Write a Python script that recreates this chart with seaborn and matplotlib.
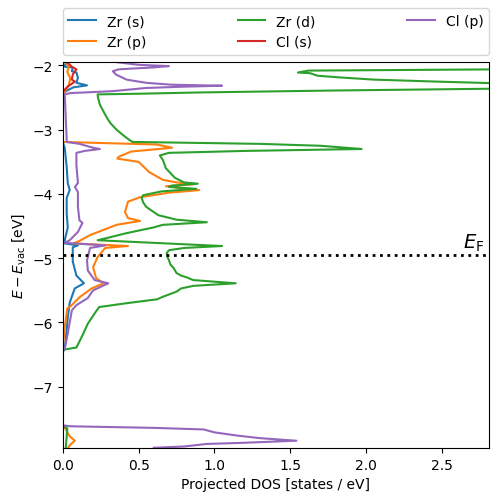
import matplotlib
matplotlib.use("Agg")
import matplotlib.pyplot as plt
import seaborn as sns
import pandas as pd

# projected DOS (energy in eV, DOS in states/eV)
zr_s_energy = [-1.95, -2.00, -2.02, -2.03, -2.09, -2.11, -2.19, -2.27, -2.31, -2.34, -2.41, -2.45,
               -3.19, -3.28, -3.58, -3.83, -3.94, -4.06, -4.30, -4.52, -4.72, -4.77, -4.80, -4.83,
               -5.05, -5.27, -5.39, -5.47, -5.69, -5.92, -6.12, -6.41, -6.45, -7.95]
zr_s_dos = [0.02, 0.015, 0.013, 0.066, 0.06, 0.09, 0.10, 0.09, 0.16, 0.07, 0.013, 0.0,
            0.0, 0.013, 0.026, 0.033, 0.046, 0.026, 0.026, 0.033, 0.013, 0.013, 0.10, 0.066,
            0.066, 0.09, 0.14, 0.079, 0.046, 0.033, 0.026, 0.013, 0.0, 0.0]

zr_p_energy = [-1.95, -2.02, -2.10, -2.20, -2.30, -2.38, -2.45,
               -3.19, -3.21, -3.23, -3.28, -3.34, -3.42, -3.45, -3.50, -3.66, -3.78, -3.82, -3.85,
               -3.88, -3.94, -3.98, -4.05, -4.12, -4.28, -4.375, -4.42, -4.48, -4.64, -4.73, -4.77,
               -4.81, -4.84, -4.98, -5.14, -5.31, -5.39, -5.47, -5.61, -5.75, -5.78, -6.08, -6.39,
               -7.62, -7.66, -7.73, -7.78, -7.84, -7.90, -7.95]
zr_p_dos = [0.02, 0.04, 0.03, 0.05, 0.04, 0.02, 0.0,
            0.0, 0.3, 0.62, 0.72, 0.45, 0.37, 0.36, 0.50, 0.57, 0.66, 0.75, 0.86,
            0.68, 0.90, 0.70, 0.51, 0.43, 0.41, 0.43, 0.51, 0.355, 0.18, 0.11, 0.07,
            0.43, 0.28, 0.23, 0.20, 0.22, 0.27, 0.19, 0.11, 0.05, 0.03, 0.013, 0.0,
            0.0, 0.02, 0.035, 0.05, 0.08, 0.05, 0.035]

zr_d_energy = [-1.95, -2.04, -2.06, -2.08, -2.11, -2.12, -2.16, -2.19, -2.22, -2.25, -2.28, -2.33,
               -2.36, -2.39, -2.42, -2.44, -2.45, -2.50, -2.61, -2.70, -2.81, -2.90, -3.00,
               -3.06, -3.125, -3.16, -3.19, -3.22,
               -3.25, -3.30, -3.33, -3.36, -3.40, -3.47, -3.60, -3.75, -3.82, -3.84, -3.87,
               -3.89, -3.92, -3.96, -4.02, -4.06, -4.13, -4.20, -4.33, -4.40, -4.44, -4.48, -4.52,
               -4.61, -4.68, -4.72, -4.81, -4.84, -4.875, -4.92, -4.98, -5.03, -5.10, -5.15,
               -5.23, -5.27, -5.30, -5.34, -5.39, -5.43, -5.47, -5.52, -5.60, -5.64, -5.70,
               -5.76, -5.86, -6.02, -6.20, -6.39, -6.42, -6.45, -7.60, -7.65, -7.95]
zr_d_dos = [4.5, 4.0, 2.9, 1.62, 1.55, 1.63, 1.68, 1.85, 2.05, 2.45, 2.9, 3.8,
            2.9, 1.78, 0.9, 0.5, 0.23, 0.232, 0.245, 0.265, 0.29, 0.315, 0.355,
            0.385, 0.42, 0.44, 0.46, 1.3,
            1.7, 1.97, 1.2, 0.7, 0.64, 0.66, 0.68, 0.74, 0.80, 0.89, 0.72,
            0.70, 0.88, 0.65, 0.53, 0.52, 0.53, 0.55, 0.63, 0.75, 0.95, 0.66, 0.60,
            0.42, 0.30, 0.23, 1.05, 0.80, 0.70, 0.685, 0.69, 0.70, 0.71, 0.73,
            0.75, 0.78, 0.82, 0.86, 1.14, 0.86, 0.78, 0.75, 0.66, 0.62, 0.42,
            0.24, 0.21, 0.165, 0.13, 0.09, 0.013, 0.0, 0.0, 0.03, 0.02]

cl_s_energy = [-1.95, -2.02, -2.06, -2.14, -2.22, -2.25, -2.33, -2.375, -2.42, -7.95]
cl_s_dos = [0.03, 0.06, 0.09, 0.066, 0.06, 0.08, 0.033, 0.013, 0.0, 0.0]

cl_p_energy = [-1.95, -1.99, -2.01, -2.03, -2.06, -2.09, -2.14, -2.22, -2.27, -2.30, -2.315, -2.33,
               -2.35, -2.40, -2.43, -2.45, -3.15, -3.19, -3.22, -3.28, -3.30, -3.33, -3.36,
               -3.55, -3.83, -3.89, -3.97, -4.20, -4.41, -4.45, -4.59, -4.72, -4.76, -4.80,
               -4.84, -5.03, -5.19, -5.34, -5.39, -5.50, -5.62, -5.73, -5.81, -6.17, -6.41,
               -6.45, -7.60, -7.615, -7.64, -7.665, -7.71, -7.76, -7.80, -7.84, -7.875,
               -7.89, -7.93, -7.95]
cl_p_dos = [0.36, 0.5, 0.70, 0.6, 0.37, 0.33, 0.35, 0.42, 0.55, 0.72, 1.05, 0.80,
            0.55, 0.33, 0.05, 0.013, 0.026, 0.026, 0.11, 0.20, 0.245, 0.145, 0.09,
            0.09, 0.10, 0.08, 0.10, 0.10, 0.11, 0.13, 0.10, 0.046, 0.013, 0.28,
            0.18, 0.16, 0.165, 0.21, 0.30, 0.20, 0.165, 0.09, 0.06, 0.033, 0.013,
            0.0, 0.0, 0.05, 0.6, 0.93, 1.0, 1.15, 1.3, 1.54, 1.16,
            0.95, 0.8, 0.6]

labels = ["Zr (s)", "Zr (p)", "Zr (d)", "Cl (s)", "Cl (p)"]
energies = [zr_s_energy, zr_p_energy, zr_d_energy, cl_s_energy, cl_p_energy]
doses = [zr_s_dos, zr_p_dos, zr_d_dos, cl_s_dos, cl_p_dos]
e_fermi = -4.95

frames = []
for lab, e, d in zip(labels, energies, doses):
    frames.append(pd.DataFrame({"energy": e, "dos": d, "orbital": lab}))
df = pd.concat(frames, ignore_index=True)

fig = plt.figure(figsize=(4.98, 5.02), dpi=100)
ax = fig.add_axes([0.126, 0.106, 0.856, 0.768])
sns.lineplot(data=df, x="dos", y="energy", hue="orbital", hue_order=labels,
             palette=sns.color_palette("tab10", 5), orient="y", estimator=None,
             linewidth=1.5, ax=ax)
ax.axhline(e_fermi, color="black", linestyle=":", linewidth=2)
ax.text(2.78, e_fermi + 0.03, r"$E_{\mathrm{F}}$", ha="right", va="bottom", fontsize=14)

ax.set_xlim(0, 2.81)
ax.set_ylim(-7.95, -1.95)
ax.set_xlabel("Projected DOS [states / eV]")
ax.set_ylabel(r"$E - E_{\mathrm{vac}}$ [eV]")

handles, labs = ax.get_legend_handles_labels()
ax.legend(handles, labs, bbox_to_anchor=(0, 1.02, 1, 0.2), loc="lower left",
          mode="expand", ncol=3, borderaxespad=0)

fig.savefig("out.png", dpi=100)
